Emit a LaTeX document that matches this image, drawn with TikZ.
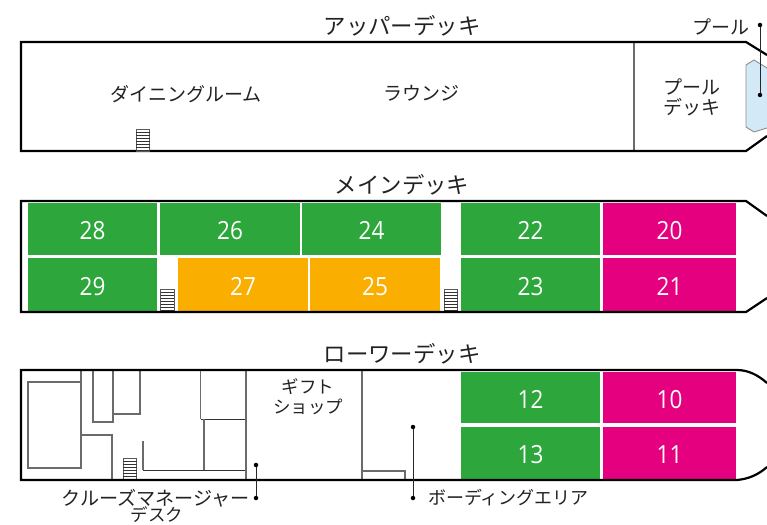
\documentclass[tikz,border=0pt]{standalone}
\usepackage{fontspec}
\setmainfont{Noto Sans CJK JP}[Scale=1]
\newfontfamily\numfont{Open Sans}[FakeStretch=0.9]
\definecolor{cabgreen}{HTML}{2DA73C}
\definecolor{cabpink}{HTML}{E4007F}
\definecolor{caborange}{HTML}{F9AE00}
\definecolor{poolblue}{HTML}{D4E9F7}
\definecolor{inkc}{HTML}{222222}
\tikzset{
  hull/.style={draw=black,line width=2.2pt,line join=miter},
  wall/.style={draw=black!58,line width=1.1pt},
  thinwall/.style={draw=black!80,line width=0.9pt},
  cabin/.style={draw=none,minimum width=0pt,inner sep=0pt,text=white,text height=18pt,text depth=0pt,font=\numfont\fontsize{25}{25}\selectfont},
  lab/.style={inner sep=0pt,align=center,text=inkc,font=\fontsize{19}{20}\selectfont},
  labsmall/.style={lab,font=\fontsize{17.5}{20}\selectfont},
  decktitle/.style={inner sep=0pt,text=inkc,font=\fontsize{22.4}{22}\selectfont},
  leader/.style={draw=black!85,line width=0.9pt},
  dot/.style={fill=black,circle,inner sep=0pt,minimum size=4.5pt},
  stairbox/.style={draw=black!65,fill=white,line width=0.9pt},
  stairline/.style={draw=black!80,line width=0.7pt},
}
\newcommand{\cabinbox}[7]{% name, x0,x1,y0,y1,colour,text
  \fill[#6] (#2,#4) rectangle (#3,#5);
  \node[cabin] (#1) at ({(#2+#3)/2},{(#4+#5)/2+1.5}) {#7};
}
\newcommand{\stairs}[2]{% x,y top-left, 14x22
  \draw[stairbox] (#1,#2) rectangle ++(13.5,22);
  \foreach \k in {3,6,...,21} {\draw[stairline] (#1,#2+\k) -- ++(13.5,0);}
}
\begin{document}
\begin{tikzpicture}[x=1pt,y=-1pt]
\useasboundingbox (0,0) rectangle (767,524);
\begin{scope}
\clip (0,0) rectangle (767,524);
% upper deck
\draw[wall] (634,42) -- (634,151);
\draw[draw=black!45,fill=poolblue,line width=0.9pt] (767,68) -- (754,60) -- (746,65) -- (746,127) -- (754,132) -- (767,128);
\draw[hull] (767,55) -- (746,42) -- (21,42) -- (21,151) -- (746,151) -- (767,136);
\stairs{136}{129}
\node[decktitle] (t1) at (402,26) {アッパーデッキ};
\node[lab] (dining) at (186,94) {ダイニングルーム};
\node[lab] (lounge) at (421,93) {ラウンジ};
\node[lab] (pd) at (692,97) {プール\\デッキ};
\node[lab,anchor=east] (pool) at (750,27) {プール};
\coordinate (poolA) at (760,25);
\coordinate (poolB) at (760,95);
\draw[leader] (poolA) -- (poolB);
\node[dot] at (poolA) {};
\node[dot] at (poolB) {};
% main deck
\node[decktitle] (t2) at (402,185) {メインデッキ};
\cabinbox{c28}{28}{157}{203}{255}{cabgreen}{28}
\cabinbox{c26}{160}{300}{203}{255}{cabgreen}{26}
\cabinbox{c24}{302}{441}{203}{255}{cabgreen}{24}
\cabinbox{c22}{461}{600}{203}{255}{cabgreen}{22}
\cabinbox{c20}{603}{736}{203}{255}{cabpink}{20}
\cabinbox{c29}{28}{157}{258}{311}{cabgreen}{29}
\cabinbox{c27}{178}{308}{258}{311}{caborange}{27}
\cabinbox{c25}{310}{440}{258}{311}{caborange}{25}
\cabinbox{c23}{461}{600}{258}{311}{cabgreen}{23}
\cabinbox{c21}{603}{736}{258}{311}{cabpink}{21}
\stairs{160.5}{289}
\stairs{444}{289}
\draw[hull] (767,216) -- (746,201) -- (21,201) -- (21,312) -- (746,312) -- (767,298);
% lower deck
\node[decktitle] (t3) at (402,354) {ローワーデッキ};
\cabinbox{c12}{461}{600}{372}{423}{cabgreen}{12}
\cabinbox{c13}{461}{600}{427}{479}{cabgreen}{13}
\cabinbox{c10}{603}{736}{372}{423}{cabpink}{10}
\cabinbox{c11}{603}{736}{427}{479}{cabpink}{11}
\draw[wall] (28,382) rectangle (81,468);
\draw[wall] (81,370) -- (81,468);
\draw[wall] (81,435) -- (112,435) -- (112,480);
\draw[wall] (93,370) -- (93,422) -- (113,422) -- (113,370);
\draw[wall] (113,414) -- (140,414) -- (140,370);
\draw[wall] (143,441) -- (143,470);
\draw[thinwall] (143,470) -- (246,470);
\draw[wall] (200.7,370) -- (200.7,419);
\draw[thinwall] (200.7,419) -- (246,419);
\draw[wall] (204,419) -- (204,470);
\draw[wall] (246,370) -- (246,480);
\draw[wall] (362,370) -- (362,480);
\draw[wall] (362,471) -- (405,471) -- (405,480);
\stairs{123}{458}
\draw[hull] (767,383) .. controls (758,375) and (748,370) .. (737,370) -- (21,370) -- (21,480) -- (737,480) .. controls (748,479) and (758,475) .. (767,467);
\node[labsmall] (gift) at (308,397) {ギフト\\ショップ};
\node[lab,anchor=east,font=\fontsize{19.1}{20}\selectfont] (cruise) at (250,498) {クルーズマネージャー};
\node[labsmall] (desk) at (157,514.5) {デスク};
\node[lab,anchor=west,font=\fontsize{18}{20}\selectfont] (board) at (428,498) {ボーディングエリア};
\coordinate (crA) at (256,465);
\coordinate (crB) at (256,498);
\coordinate (boA) at (413,427);
\coordinate (boB) at (413,498);
\draw[leader] (crA) -- (crB);
\draw[leader] (boA) -- (boB);
\foreach \p in {crA,crB,boA,boB} {\node[dot] at (\p) {};}
\end{scope}
\end{tikzpicture}
\end{document}
